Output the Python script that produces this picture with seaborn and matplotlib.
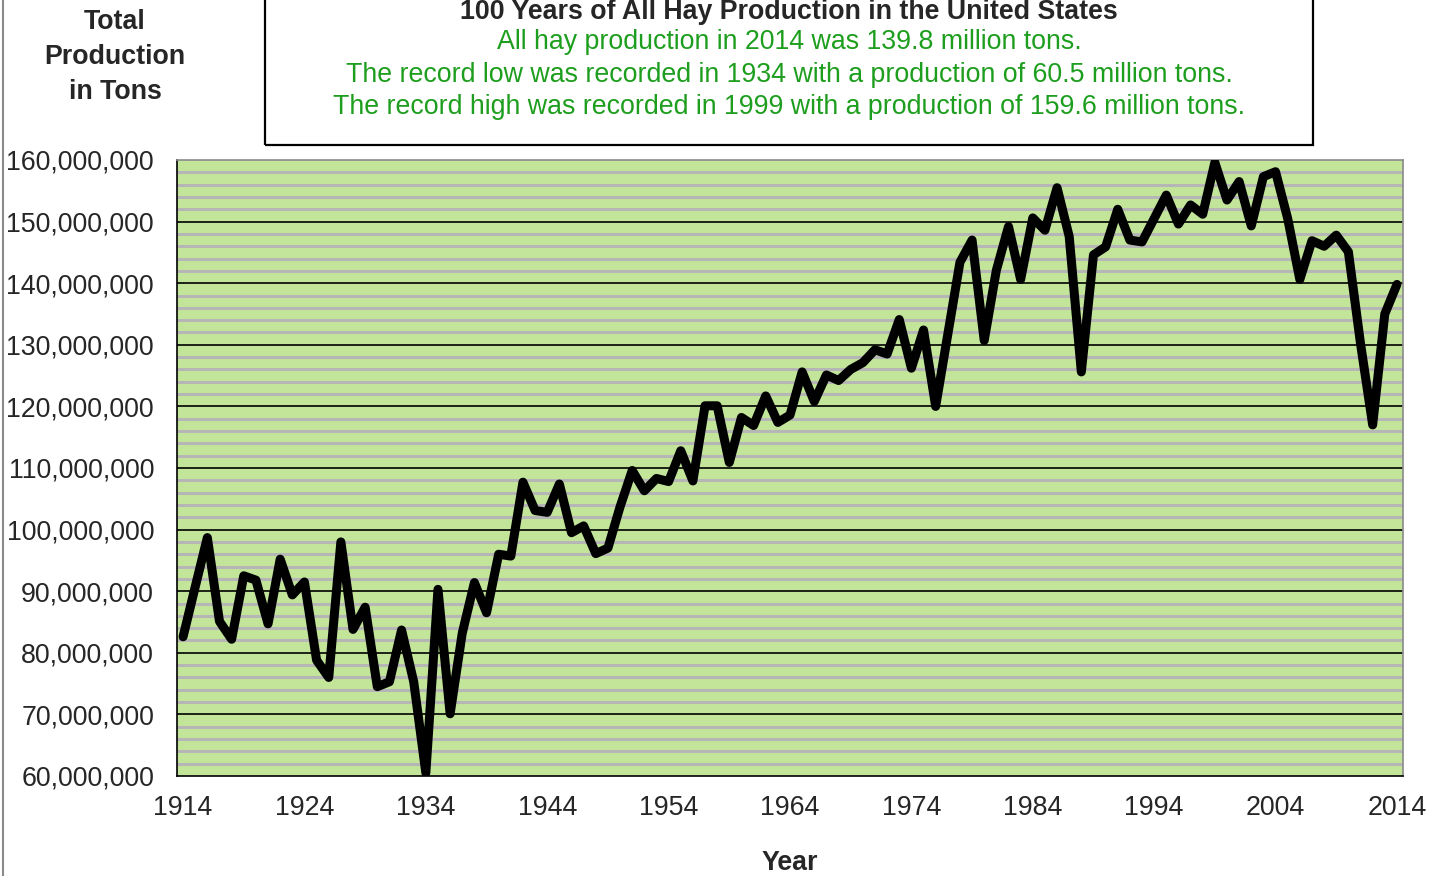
import matplotlib
matplotlib.use("Agg")
import matplotlib.pyplot as plt
import matplotlib.patches as mpatches
import matplotlib.lines as mlines
from matplotlib.ticker import FuncFormatter, MultipleLocator
import seaborn as sns
import pandas as pd
import numpy as np

# Production in millions of tons (1914 - 2014)
years = list(range(1914, 2015))
production_mil = [
    82.6, 90.7, 98.7, 85.1, 82.2, 92.5, 91.8, 84.7, 95.2, 89.4,   # 1914-1923
    91.5, 78.8, 76.0, 98.0, 83.8, 87.4, 74.5, 75.3, 83.7, 75.3,   # 1924-1933
    60.5, 90.3, 70.1, 83.2, 91.4, 86.5, 96.0, 95.7, 107.7, 103.1, # 1934-1943
    102.8, 107.4, 99.5, 100.6, 96.1, 97.0, 103.7, 109.6, 106.3, 108.3,  # 1944-1953
    107.8, 112.8, 107.9, 120.1, 120.1, 110.9, 118.2, 116.9, 121.7, 117.4,  # 1954-1963
    118.6, 125.6, 120.8, 125.1, 124.2, 126.0, 127.1, 129.2, 128.5, 134.1,  # 1964-1973
    126.2, 132.4, 120.0, 131.7, 143.4, 147.0, 130.7, 142.1, 149.2, 140.6,  # 1974-1983
    150.6, 148.6, 155.5, 147.6, 125.6, 144.6, 145.9, 152.0, 147.0, 146.7,  # 1984-1993
    150.5, 154.3, 149.6, 152.7, 151.2, 159.6, 153.5, 156.5, 149.3, 157.3,  # 1994-2003
    158.1, 150.5, 140.6, 146.9, 146.0, 147.8, 145.1, 130.2, 117.0, 135.0,  # 2004-2013
    139.8,                                                         # 2014
]
label_years = list(range(1914, 2015, 10))

title = "100 Years of All Hay Production in the United States"
notes = [
    "All hay production in 2014 was 139.8 million tons.",
    "The record low was recorded in 1934 with a production of 60.5 million tons.",
    "The record high was recorded in 1999 with a production of 159.6 million tons.",
]

df = pd.DataFrame({"Year": years, "Tons": np.array(production_mil) * 1e6})

sns.set_style("white")
plt.rcParams["font.family"] = ["Liberation Sans", "DejaVu Sans"]
FS = 19.3

W, H = 1451, 876
fig = plt.figure(figsize=(W / 100, H / 100), dpi=100)
ax = fig.add_axes([177 / W, 1 - 776 / H, (1403 - 177) / W, (776 - 160) / H])
ax.set_facecolor("#c2e59a")

# grid: gray minor every 2M, black major every 10M
for v in np.arange(62e6, 160e6, 2e6):
    if int(round(v / 1e6)) % 10:
        ax.axhline(v, color="#b6b6b6", lw=2.2, zorder=1)
for v in np.arange(70e6, 160e6, 10e6):
    ax.axhline(v, color="black", lw=1.2, zorder=1)

sns.lineplot(data=df, x="Year", y="Tons", ax=ax, color="black", lw=6.5,
             solid_joinstyle="round", solid_capstyle="round", zorder=3)

ax.set_xlim(1913.5, 2014.5)
ax.set_ylim(60e6, 160e6)
ax.yaxis.set_major_locator(MultipleLocator(10e6))
ax.yaxis.set_major_formatter(FuncFormatter(lambda v, p: f"{v:,.0f}"))
ax.set_xticks(label_years)
ax.set_xticks(np.arange(1913.5, 2015, 1), minor=True)
ax.tick_params(axis="x", which="major", length=0, labelsize=FS, pad=14)
ax.tick_params(axis="x", which="minor", length=5.5, width=1, color="black", direction="out")
ax.tick_params(axis="y", which="major", length=5.5, width=1, color="black",
               direction="out", labelsize=FS, pad=11)
ax.set_xlabel("")
ax.set_ylabel("")

for side in ["top", "right"]:
    ax.spines[side].set_color("#8a8a8a")
    ax.spines[side].set_linewidth(1.2)
for side in ["left", "bottom"]:
    ax.spines[side].set_color("black")
    ax.spines[side].set_linewidth(1.2)

# x-axis label
fig.text(790 / W, 1 - 863 / H, "Year", ha="center", va="center",
         fontsize=FS, fontweight="bold")

# y-axis label in top-left corner
fig.text(115 / W, 1 - 57 / H, "Total\nProduction\nin Tons", ha="center", va="center",
         fontsize=FS, fontweight="bold", linespacing=1.45)

# title box
fig.patches.append(mpatches.Rectangle((265 / W, 1 - 145 / H), (1313 - 265) / W, 160 / H,
                                      transform=fig.transFigure, fill=False,
                                      edgecolor="black", lw=1.6))
fig.text(789 / W, 1 - 12 / H, title, ha="center", va="center",
         fontsize=FS, fontweight="bold")
for i, line in enumerate(notes):
    fig.text(789 / W, 1 - (42 + 32.5 * i) / H, line, ha="center", va="center",
             fontsize=FS, color="#1e9e1e")

# chart outer frame (only left edge visible)
fig.lines.append(mlines.Line2D([3 / W, 3 / W], [0, 1], transform=fig.transFigure,
                               color="#8a8a8a", lw=1.5))

fig.savefig("out.png", dpi=100, facecolor="white")
